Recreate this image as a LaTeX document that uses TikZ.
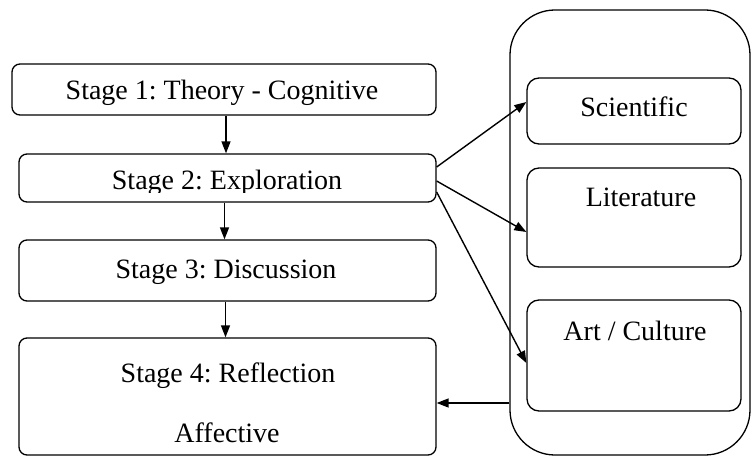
\documentclass[tikz,border=0pt]{standalone}
\usepackage{fontspec}
\setmainfont{Liberation Serif}
\usetikzlibrary{arrows.meta,calc}
\frenchspacing
\begin{document}
\begin{tikzpicture}[x=1pt,y=-1pt,
  stagebox/.style={draw,rounded corners=8pt,line width=1.3pt,inner sep=0pt},
  sidebox/.style={draw,rounded corners=12pt,line width=1.3pt,inner sep=0pt,minimum width=214pt},
  txt/.style={anchor=base,inner sep=0pt,font=\fontsize{28}{32}\selectfont},
  conn/.style={line width=1.4pt,-{Triangle[length=12pt,width=9pt]}}]
\useasboundingbox (0,0) rectangle (752,457);
% stage boxes
\node[stagebox,minimum width=424pt,minimum height=51pt] (box1) at (224,89.5) {};
\node[stagebox,minimum width=417pt,minimum height=48pt] (box2) at (227.5,178) {};
\node[stagebox,minimum width=417pt,minimum height=61pt] (box3) at (227.5,270.5) {};
\node[stagebox,minimum width=417pt,minimum height=117pt] (box4) at (227.5,396.5) {};
% container and side boxes
\node[draw,rounded corners=45pt,line width=1.3pt,inner sep=0pt,minimum width=240pt,minimum height=445pt] (cont) at (630,232.5) {};
\node[sidebox,minimum height=66pt] (sci) at (634,111) {};
\node[sidebox,minimum height=99pt] (lit) at (634,217.5) {};
\node[sidebox,minimum height=111pt] (art) at (634,355.5) {};
% texts
\node[txt] (t1) at (222,100) {Stage 1: Theory - Cognitive};
\begin{scope}
\clip (19,154) rectangle (436,193);
\node[txt] (t2) at (227,190) {Stage 2: Exploration};
\end{scope}
\node[txt] (t3) at (226,278) {Stage 3: Discussion};
\node[txt] (t4a) at (228,382) {Stage 4: Reflection};
\node[txt] (t4b) at (227,442) {Affective};
\node[txt] (ts) at (634,117) {Scientific};
\node[txt] (tl) at (641,207) {Literature};
\node[txt] (ta) at (635,340) {Art / Culture};
% connectors
\draw[conn] ([xshift=2pt]box1.south) -- ([xshift=2pt]box1.south |- box2.north);
\draw[conn] ([xshift=-3pt]box2.south) -- ([xshift=-3pt]box2.south |- box3.north);
\draw[conn] ([xshift=-2pt]box3.south) -- ([xshift=-2pt]box3.south |- box4.north);
\draw[conn] ([yshift=11pt]box2.east) -- ([yshift=9pt]sci.west);
\draw[conn] ([yshift=-3pt]box2.east) -- ([yshift=-14.5pt]lit.west);
\draw[conn] ([yshift=-14pt]box2.east) -- ([yshift=-7.5pt]art.west);
\draw[conn] ([yshift=-170.5pt]cont.west) coordinate (bk) -- (bk -| box4.east);
\end{tikzpicture}
\end{document}
